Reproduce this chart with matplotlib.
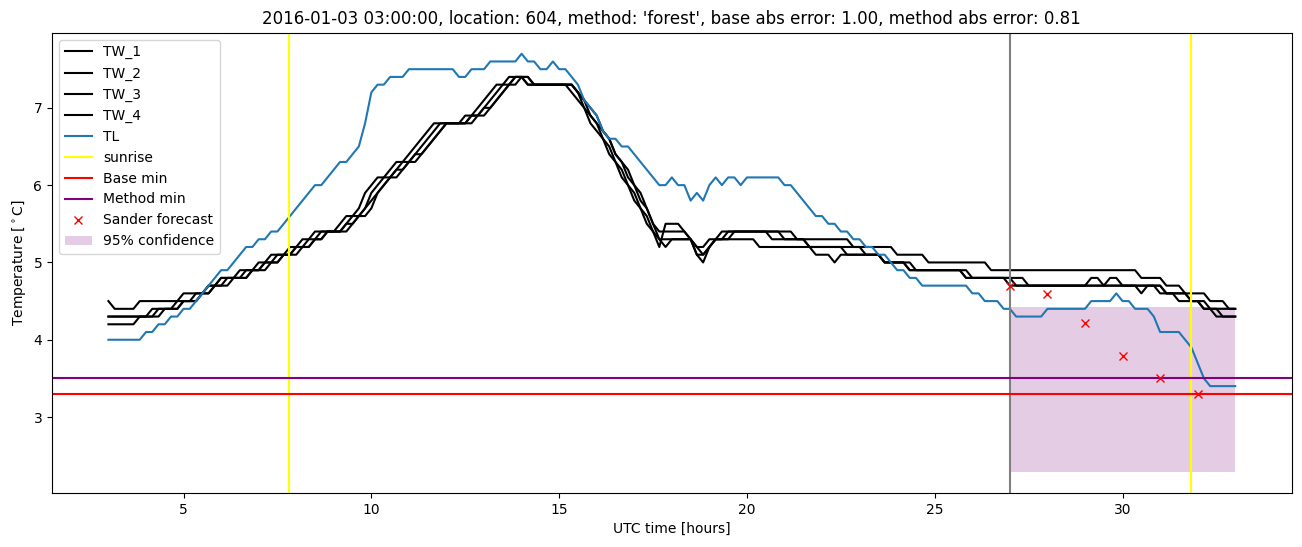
import numpy as np
import matplotlib
matplotlib.use('Agg')
import matplotlib.pyplot as plt

# 10-minute samples from 03:00 to 33:00 UTC (one row per hour)
hours = np.arange(181) / 6 + 3

tw_1 = [4.5, 4.4, 4.4, 4.4, 4.4, 4.5,
        4.5, 4.5, 4.5, 4.5, 4.5, 4.5,
        4.6, 4.6, 4.6, 4.6, 4.7, 4.7,
        4.8, 4.8, 4.8, 4.9, 4.9, 4.9,
        5.0, 5.0, 5.1, 5.1, 5.1, 5.2,
        5.2, 5.3, 5.3, 5.4, 5.4, 5.4,
        5.4, 5.5, 5.6, 5.6, 5.7, 5.9,
        6.0, 6.1, 6.1, 6.2, 6.3, 6.3,
        6.4, 6.5, 6.6, 6.7, 6.8, 6.8,
        6.8, 6.8, 6.8, 6.9, 6.9, 7.0,
        7.1, 7.2, 7.3, 7.3, 7.4, 7.4,
        7.4, 7.3, 7.3, 7.3, 7.3, 7.3,
        7.3, 7.3, 7.2, 7.1, 7.0, 6.8,
        6.7, 6.6, 6.4, 6.3, 6.1, 6.0,
        5.8, 5.7, 5.5, 5.4, 5.2, 5.5,
        5.5, 5.5, 5.4, 5.3, 5.1, 5.0,
        5.2, 5.3, 5.3, 5.4, 5.4, 5.4,
        5.4, 5.4, 5.4, 5.4, 5.4, 5.4,
        5.4, 5.4, 5.3, 5.3, 5.3, 5.3,
        5.3, 5.3, 5.3, 5.3, 5.3, 5.2,
        5.2, 5.2, 5.2, 5.2, 5.2, 5.2,
        5.1, 5.1, 5.1, 5.1, 5.1, 5.0,
        5.0, 5.0, 5.0, 5.0, 5.0, 5.0,
        5.0, 5.0, 5.0, 4.9, 4.9, 4.9,
        4.9, 4.9, 4.9, 4.9, 4.9, 4.9,
        4.9, 4.9, 4.9, 4.9, 4.9, 4.9,
        4.9, 4.9, 4.9, 4.9, 4.9, 4.9,
        4.9, 4.9, 4.9, 4.8, 4.8, 4.8,
        4.8, 4.7, 4.7, 4.7, 4.6, 4.6,
        4.6, 4.6, 4.5, 4.5, 4.5, 4.4,
        4.4]

tw_2 = [4.3, 4.3, 4.3, 4.3, 4.3, 4.3,
        4.3, 4.4, 4.4, 4.4, 4.4, 4.5,
        4.5, 4.5, 4.6, 4.6, 4.7, 4.7,
        4.8, 4.8, 4.8, 4.8, 4.9, 4.9,
        4.9, 5.0, 5.0, 5.1, 5.1, 5.1,
        5.2, 5.2, 5.3, 5.3, 5.4, 5.4,
        5.4, 5.4, 5.5, 5.6, 5.6, 5.7,
        5.9, 6.0, 6.1, 6.1, 6.2, 6.3,
        6.3, 6.4, 6.5, 6.6, 6.7, 6.8,
        6.8, 6.8, 6.8, 6.8, 6.9, 6.9,
        7.0, 7.1, 7.2, 7.3, 7.3, 7.4,
        7.4, 7.3, 7.3, 7.3, 7.3, 7.3,
        7.3, 7.3, 7.3, 7.2, 7.1, 6.9,
        6.8, 6.7, 6.6, 6.4, 6.3, 6.1,
        6.0, 5.8, 5.7, 5.5, 5.4, 5.4,
        5.4, 5.4, 5.4, 5.3, 5.2, 5.1,
        5.2, 5.3, 5.3, 5.3, 5.4, 5.4,
        5.4, 5.4, 5.4, 5.4, 5.4, 5.4,
        5.3, 5.3, 5.3, 5.3, 5.2, 5.2,
        5.2, 5.2, 5.2, 5.2, 5.2, 5.2,
        5.2, 5.1, 5.1, 5.1, 5.0, 5.0,
        5.0, 5.0, 4.9, 4.9, 4.9, 4.9,
        4.9, 4.9, 4.9, 4.9, 4.9, 4.8,
        4.8, 4.8, 4.8, 4.8, 4.8, 4.8,
        4.8, 4.8, 4.8, 4.7, 4.7, 4.7,
        4.7, 4.7, 4.7, 4.7, 4.7, 4.7,
        4.7, 4.8, 4.8, 4.7, 4.8, 4.8,
        4.7, 4.7, 4.7, 4.6, 4.7, 4.7,
        4.7, 4.6, 4.6, 4.6, 4.6, 4.5,
        4.5, 4.4, 4.4, 4.4, 4.3, 4.3,
        4.3]

tw_3 = [4.3, 4.3, 4.3, 4.3, 4.3, 4.3,
        4.3, 4.3, 4.4, 4.4, 4.4, 4.4,
        4.5, 4.5, 4.5, 4.6, 4.6, 4.7,
        4.7, 4.8, 4.8, 4.8, 4.8, 4.9,
        4.9, 4.9, 5.0, 5.0, 5.1, 5.1,
        5.1, 5.2, 5.2, 5.3, 5.3, 5.4,
        5.4, 5.4, 5.4, 5.5, 5.6, 5.6,
        5.7, 5.9, 6.0, 6.1, 6.1, 6.2,
        6.3, 6.3, 6.4, 6.5, 6.6, 6.7,
        6.8, 6.8, 6.8, 6.8, 6.8, 6.9,
        6.9, 7.0, 7.1, 7.2, 7.3, 7.3,
        7.4, 7.4, 7.3, 7.3, 7.3, 7.3,
        7.3, 7.3, 7.3, 7.2, 7.0, 6.9,
        6.8, 6.6, 6.5, 6.3, 6.2, 6.0,
        5.9, 5.7, 5.6, 5.4, 5.3, 5.3,
        5.3, 5.3, 5.3, 5.3, 5.2, 5.2,
        5.3, 5.3, 5.3, 5.3, 5.3, 5.3,
        5.3, 5.3, 5.2, 5.2, 5.2, 5.2,
        5.2, 5.2, 5.2, 5.2, 5.2, 5.1,
        5.1, 5.1, 5.0, 5.1, 5.1, 5.1,
        5.1, 5.1, 5.1, 5.1, 5.0, 5.0,
        5.0, 5.0, 5.0, 4.9, 4.9, 4.9,
        4.9, 4.9, 4.9, 4.9, 4.9, 4.8,
        4.8, 4.8, 4.8, 4.8, 4.8, 4.8,
        4.7, 4.7, 4.7, 4.7, 4.7, 4.7,
        4.7, 4.7, 4.7, 4.7, 4.7, 4.7,
        4.7, 4.7, 4.7, 4.7, 4.7, 4.7,
        4.7, 4.7, 4.7, 4.7, 4.7, 4.7,
        4.6, 4.6, 4.6, 4.5, 4.5, 4.5,
        4.5, 4.4, 4.4, 4.3, 4.3, 4.3,
        4.3]

tw_4 = [4.2, 4.2, 4.2, 4.2, 4.2, 4.3,
        4.3, 4.3, 4.3, 4.4, 4.4, 4.4,
        4.5, 4.5, 4.5, 4.6, 4.6, 4.7,
        4.7, 4.7, 4.8, 4.8, 4.8, 4.9,
        4.9, 5.0, 5.0, 5.0, 5.1, 5.1,
        5.2, 5.2, 5.2, 5.3, 5.3, 5.4,
        5.4, 5.4, 5.5, 5.5, 5.6, 5.7,
        5.8, 5.9, 6.0, 6.1, 6.2, 6.2,
        6.3, 6.4, 6.4, 6.5, 6.6, 6.7,
        6.8, 6.8, 6.8, 6.8, 6.9, 6.9,
        7.0, 7.0, 7.1, 7.2, 7.3, 7.4,
        7.4, 7.4, 7.3, 7.3, 7.3, 7.3,
        7.3, 7.3, 7.3, 7.2, 7.1, 7.0,
        6.9, 6.7, 6.6, 6.4, 6.3, 6.2,
        6.0, 5.9, 5.7, 5.5, 5.3, 5.2,
        5.3, 5.3, 5.3, 5.3, 5.1, 5.1,
        5.2, 5.3, 5.4, 5.4, 5.4, 5.4,
        5.4, 5.4, 5.4, 5.4, 5.3, 5.3,
        5.3, 5.3, 5.3, 5.3, 5.2, 5.2,
        5.2, 5.2, 5.2, 5.2, 5.1, 5.1,
        5.1, 5.1, 5.1, 5.1, 5.0, 5.0,
        5.0, 5.0, 4.9, 4.9, 4.9, 4.9,
        4.9, 4.9, 4.9, 4.9, 4.9, 4.9,
        4.8, 4.8, 4.8, 4.8, 4.8, 4.8,
        4.8, 4.7, 4.7, 4.7, 4.7, 4.7,
        4.7, 4.7, 4.7, 4.7, 4.7, 4.7,
        4.7, 4.7, 4.7, 4.7, 4.7, 4.7,
        4.7, 4.7, 4.7, 4.7, 4.7, 4.7,
        4.7, 4.6, 4.6, 4.6, 4.6, 4.5,
        4.5, 4.5, 4.4, 4.4, 4.4, 4.4,
        4.4]

tl = [4.0, 4.0, 4.0, 4.0, 4.0, 4.0,
      4.1, 4.1, 4.2, 4.2, 4.3, 4.3,
      4.4, 4.4, 4.5, 4.6, 4.7, 4.8,
      4.9, 4.9, 5.0, 5.1, 5.2, 5.2,
      5.3, 5.3, 5.4, 5.4, 5.5, 5.6,
      5.7, 5.8, 5.9, 6.0, 6.0, 6.1,
      6.2, 6.3, 6.3, 6.4, 6.5, 6.8,
      7.2, 7.3, 7.3, 7.4, 7.4, 7.4,
      7.5, 7.5, 7.5, 7.5, 7.5, 7.5,
      7.5, 7.5, 7.4, 7.4, 7.5, 7.5,
      7.5, 7.6, 7.6, 7.6, 7.6, 7.6,
      7.7, 7.6, 7.6, 7.5, 7.5, 7.6,
      7.5, 7.5, 7.4, 7.3, 7.1, 7.0,
      6.9, 6.7, 6.6, 6.6, 6.5, 6.5,
      6.4, 6.3, 6.2, 6.1, 6.0, 6.0,
      6.1, 6.0, 6.0, 5.8, 5.9, 5.8,
      6.0, 6.1, 6.0, 6.1, 6.1, 6.0,
      6.1, 6.1, 6.1, 6.1, 6.1, 6.1,
      6.0, 6.0, 5.9, 5.8, 5.7, 5.6,
      5.6, 5.5, 5.5, 5.4, 5.4, 5.3,
      5.3, 5.2, 5.2, 5.1, 5.1, 5.0,
      4.9, 4.9, 4.8, 4.8, 4.7, 4.7,
      4.7, 4.7, 4.7, 4.7, 4.7, 4.7,
      4.6, 4.6, 4.5, 4.5, 4.5, 4.4,
      4.4, 4.3, 4.3, 4.3, 4.3, 4.3,
      4.4, 4.4, 4.4, 4.4, 4.4, 4.4,
      4.4, 4.5, 4.5, 4.5, 4.5, 4.6,
      4.5, 4.5, 4.4, 4.4, 4.4, 4.3,
      4.1, 4.1, 4.1, 4.1, 4.0, 3.9,
      3.7, 3.5, 3.4, 3.4, 3.4, 3.4,
      3.4]

sunrise = [7.82, 31.81]
forecast_start = 27.0
base_min = 3.3
method_min = 3.5

forecast_hours = [27, 28, 29, 30, 31, 32]
sander_forecast = [4.70, 4.59, 4.22, 3.79, 3.51, 3.30]

conf_hours = [27, 33]
conf_low = [2.29, 2.29]
conf_high = [4.42, 4.42]

title = ("2016-01-03 03:00:00, location: 604, method: 'forest', "
         "base abs error: 1.00, method abs error: 0.81")

fig = plt.figure(figsize=(13.02, 5.47), dpi=100)
ax = fig.add_axes([0.04, 0.099, 0.952, 0.841])

for name, vals in [('TW_1', tw_1), ('TW_2', tw_2), ('TW_3', tw_3), ('TW_4', tw_4)]:
    ax.plot(hours, vals, color='black', label=name)
ax.plot(hours, tl, color='tab:blue', label='TL')

ax.axvline(sunrise[0], color='yellow', label='sunrise')
ax.axvline(sunrise[1], color='yellow')
ax.axvline(forecast_start, color='gray')
ax.axhline(base_min, color='red', label='Base min')
ax.axhline(method_min, color='purple', label='Method min')
ax.plot(forecast_hours, sander_forecast, 'x', color='red', label='Sander forecast')
ax.fill_between(conf_hours, conf_low, conf_high, color='purple', alpha=0.2,
                linewidth=0, label='95% confidence')

ax.set_xlabel('UTC time [hours]')
ax.set_ylabel(r'Temperature [$^\circ$C]')
ax.set_title(title)
ax.legend(loc='upper left')

fig.savefig('out.png', dpi=100)
